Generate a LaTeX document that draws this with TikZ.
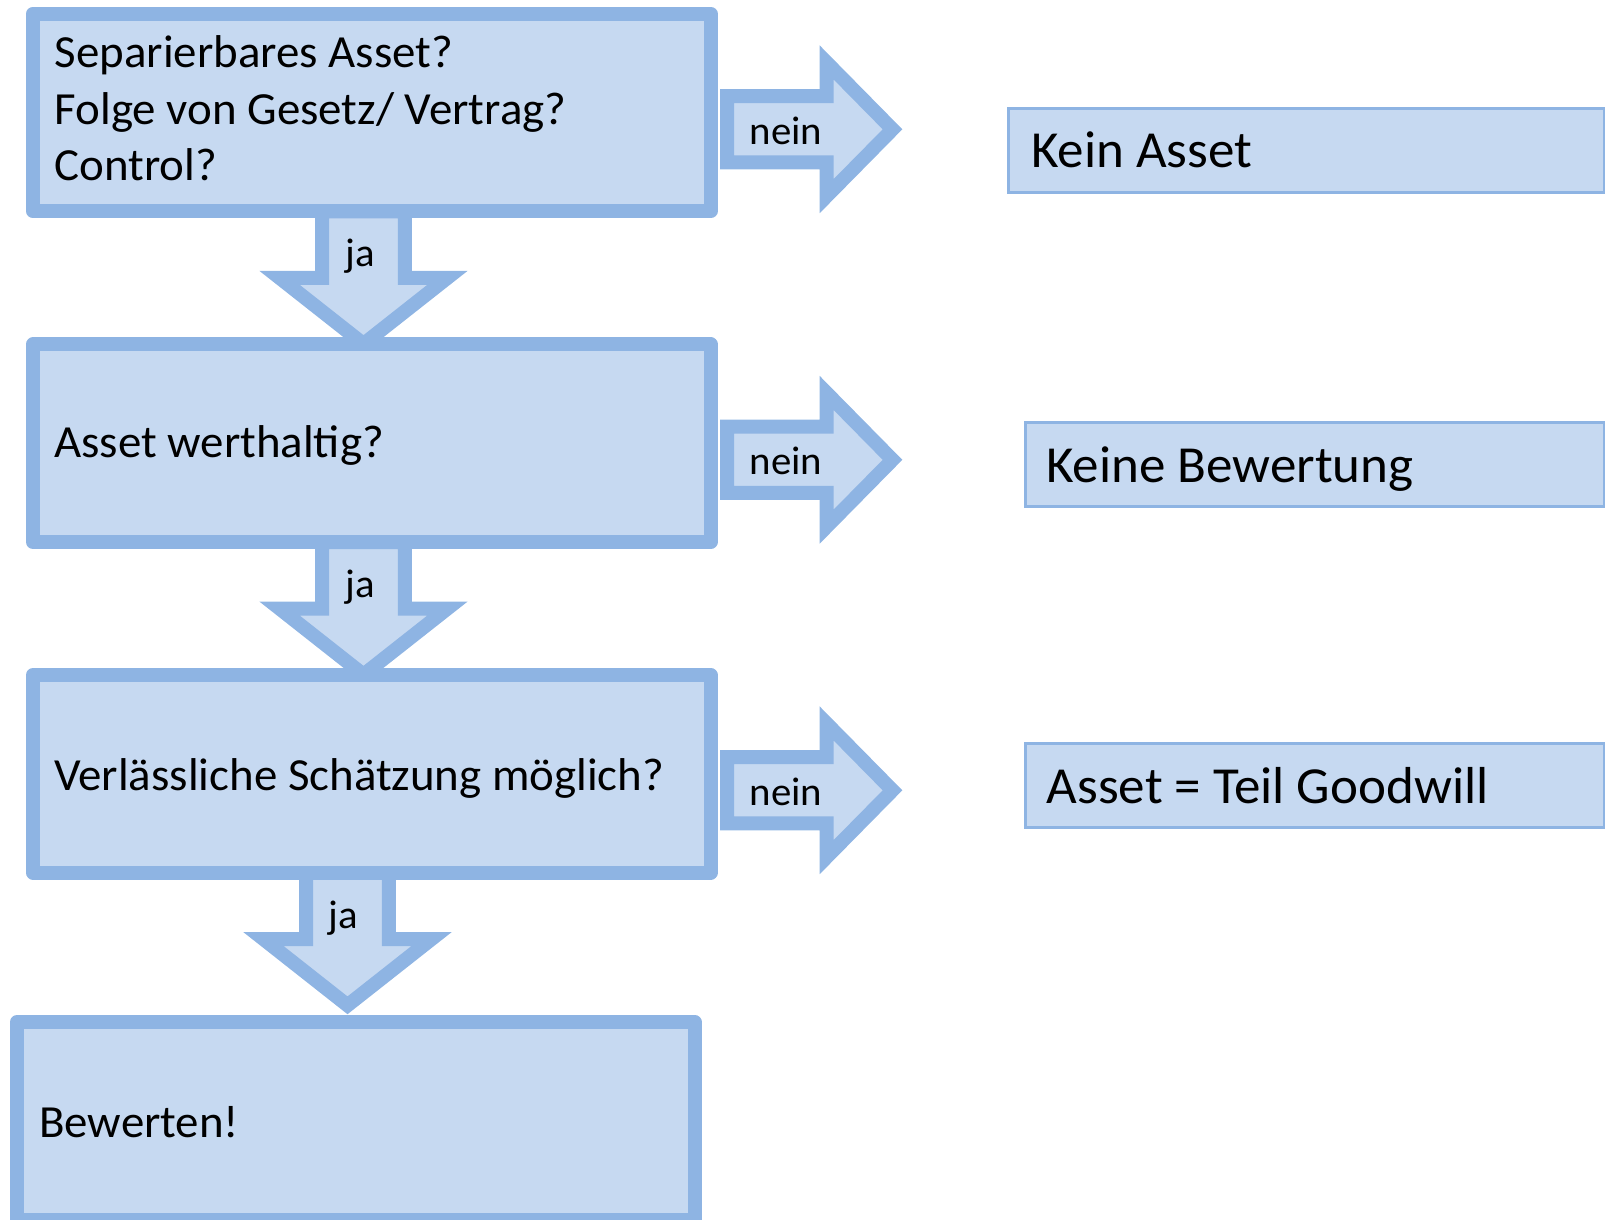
\documentclass[tikz,border=0pt]{standalone}
\usepackage{fontspec}
\setmainfont{Carlito}[FakeStretch=1.02]
\usetikzlibrary{calc}
\definecolor{bfill}{HTML}{C6D9F1}
\definecolor{bline}{HTML}{8EB4E3}
\tikzset{
  bigbox/.style={draw=bline, fill=bfill, line width=14pt, line join=round, rectangle, inner sep=0pt, outer sep=0pt, minimum width=677.5pt, minimum height=197.6pt, anchor=north west},
  smallbox/.style={draw=bline, fill=bfill, line width=3pt, rectangle, inner sep=0pt, outer sep=0pt, minimum height=84pt, anchor=north west},
  blockarrow/.style={draw=bline, fill=bfill, line width=14pt, line join=miter},
  qtext/.style={inner sep=0pt, anchor=base west, font=\fontsize{46}{56.7}\selectfont},
  atext/.style={inner sep=0pt, anchor=base west, font=\fontsize{52}{62}\selectfont},
  ltext/.style={inner sep=0pt, font=\fontsize{40}{48}\selectfont},
  pics/downarrow/.style={code={\draw[blockarrow] (-41.3,0) -- (-41.3,66.5) -- (-84,66.5) -- (0,132.7) -- (84,66.5) -- (41.3,66.5) -- (41.3,0) -- cycle;}},
  pics/rightarrow/.style={code={\draw[blockarrow] (0,-33.1) -- (99.7,-33.1) -- (99.7,-66.8) -- (165.5,0) -- (99.7,66.8) -- (99.7,33.1) -- (0,33.1) -- cycle;}},
}
\begin{document}
\begin{tikzpicture}[x=1pt,y=-1pt]
\useasboundingbox (0,0) rectangle (1605,1219);
% box anchors (coordinates of the boxes, used for the arrows)
\coordinate (b1nw) at (33,13.7);
\coordinate (b2nw) at (33,344.4);
\coordinate (b3nw) at (33,675);
\coordinate (b4nw) at (17,1022);
% block arrows (drawn first, boxes cover their ends)
\pic (ja1) at ($(b1nw)+(330.5,197.6)$) {downarrow};
\pic (ja2) at ($(b2nw)+(330.5,197.6)$) {downarrow};
\pic (ja3) at ($(b3nw)+(314.5,197.6)$) {downarrow};
\pic (nein1) at ($(b1nw)+(694,115.6)$) {rightarrow};
\pic (nein2) at ($(b2nw)+(694,115.4)$) {rightarrow};
\pic (nein3) at ($(b3nw)+(694,115.3)$) {rightarrow};
% question boxes
\node[bigbox] (b1) at (b1nw) {};
\node[bigbox] (b2) at (b2nw) {};
\node[bigbox] (b3) at (b3nw) {};
\node[bigbox] (b4) at (b4nw) {};
% result boxes
\node[smallbox, minimum width=595.5pt] (r1) at (1008.5,108.2) {};
\node[smallbox, minimum width=578.3pt] (r2) at (1025.7,422.2) {};
\node[smallbox, minimum width=578.3pt] (r3) at (1025.7,743.8) {};
% texts
\node[qtext] (t1a) at (54.5,67.5) {Separierbares Asset?};
\node[qtext] (t1b) at (54.5,124.2) {Folge von Gesetz/ Vertrag?};
\node[qtext] (t1c) at (54.5,180.9) {Control?};
\node[qtext] (t2) at (54,457.5) {Asset werthaltig?};
\node[qtext] (t3) at (54,790) {Verlässliche Schätzung möglich?};
\node[qtext] (t4) at (39,1137) {Bewerten!};
\node[atext] (tr1) at (1031,167.5) {Kein Asset};
\node[atext] (tr2) at (1046,482) {Keine Bewertung};
\node[atext] (tr3) at (1046.5,803.5) {Asset = Teil Goodwill};
\node[ltext, anchor=base west] (n1) at (749.5,144) {nein};
\node[ltext, anchor=base west] (n2) at (749.5,474.5) {nein};
\node[ltext, anchor=base west] (n3) at (749.5,805) {nein};
\node[ltext, anchor=base] (j1) at (360,266.7) {ja};
\node[ltext, anchor=base] (j2) at (360,597.5) {ja};
\node[ltext, anchor=base] (j3) at (343,928.3) {ja};
\end{tikzpicture}
\end{document}
